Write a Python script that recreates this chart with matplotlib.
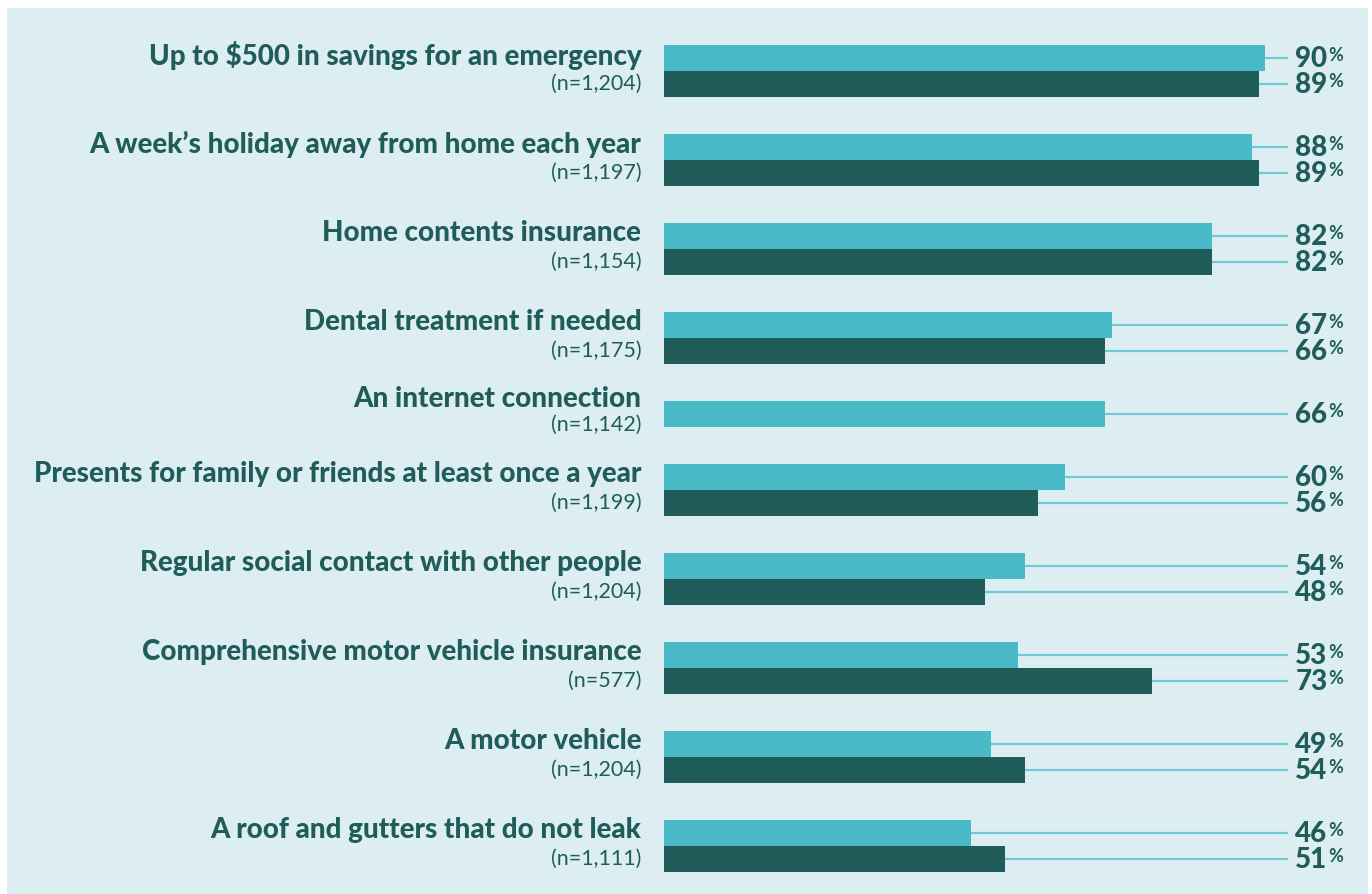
import matplotlib.pyplot as plt
from matplotlib.patches import Rectangle

categories = [
    "Up to $500 in savings for an emergency",
    "A week\u2019s holiday away from home each year",
    "Home contents insurance",
    "Dental treatment if needed",
    "An internet connection",
    "Presents for family or friends at least once a year",
    "Regular social contact with other people",
    "Comprehensive motor vehicle insurance",
    "A motor vehicle",
    "A roof and gutters that do not leak",
]
sample_sizes = ["1,204", "1,197", "1,154", "1,175", "1,142",
                "1,199", "1,204", "577", "1,204", "1,111"]
light_vals = [90, 88, 82, 67, 66, 60, 54, 53, 49, 46]
dark_vals = [89, 89, 82, 66, None, 56, 48, 73, 54, 51]

BG = "#ddeef3"
LIGHT = "#4abac8"
DARK = "#1f5c5a"
LEADER = "#6ccbd6"
TXT = "#1f5c5a"

W, H = 1372, 894
fig = plt.figure(figsize=(W / 100, H / 100), dpi=100)
fig.patch.set_facecolor("white")
fig.add_artist(Rectangle((7 / W, 0), (1368 - 7) / W, (H - 8) / H,
                         transform=fig.transFigure, facecolor=BG,
                         edgecolor="none", zorder=0))

# axes: x in percent (0 at px 664, 6.68 px per %), y in pixel rows
ax = fig.add_axes([664 / W, 0, 668 / W, 1])
ax.set_xlim(0, 100)
ax.set_ylim(H, 0)
ax.axis("off")
ax.patch.set_alpha(0)

bar_h = 26
gap = 37
y = 45
font = "Lato"
for cat, n, lv, dv in zip(categories, sample_sizes, light_vals, dark_vals):
    rows = [(lv, LIGHT)] + ([(dv, DARK)] if dv is not None else [])
    top = y
    for val, col in rows:
        yc = y + bar_h / 2
        ax.barh(yc, val, height=bar_h, color=col, left=0, zorder=2)
        ax.plot([val, 93.3], [yc, yc], color=LEADER, lw=1.6, zorder=1)
        t = ax.text(94.5, yc + 1, f"{val}", ha="left", va="center",
                    fontsize=20, fontweight="black", color=TXT, family=font)
        ax.annotate("%", xy=(1, 1), xycoords=t, xytext=(0.5, -0.5),
                    textcoords="offset points", ha="left", va="top",
                    fontsize=13, fontweight="bold", color=TXT, family=font)
        y += bar_h
    if len(rows) == 2:
        y_cat, y_n = top + bar_h / 2 - 3, top + bar_h * 1.5
    else:
        y_cat, y_n = top + bar_h / 2 - 15, top + bar_h / 2 + 11
    ax.text(-3.4, y_cat, cat, ha="right", va="center",
            fontsize=20, fontweight="black", color=TXT, family=font)
    ax.text(-3.4, y_n, f"(n={n})", ha="right", va="center",
            fontsize=15.5, color=TXT, family=font)
    y += gap

fig.savefig("out.png", dpi=100, facecolor="white")
